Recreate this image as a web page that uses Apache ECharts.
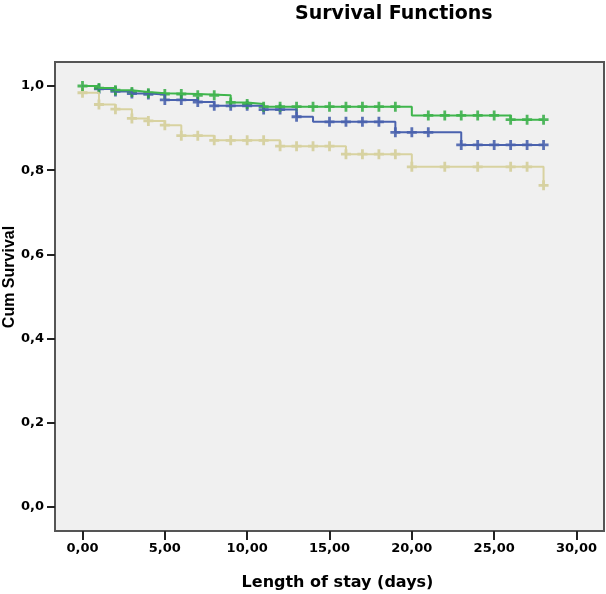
<!DOCTYPE html>
<html>
<head>
<meta charset="utf-8">
<script src="https://cdn.jsdelivr.net/npm/echarts@6/dist/echarts.min.js"></script>
<style>
  html, body { margin: 0; padding: 0; background: #fff; }
  #chart { width: 606px; height: 594px; }
</style>
</head>
<body>
<div id="chart"></div>
<script>
// tick labels
var xTicks = [0, 5, 10, 15, 20, 25, 30];
var yTicks = [0, 0.2, 0.4, 0.6, 0.8, 1.0];

// step functions: event times and survival after each step
var greenT = [0, 1, 2, 3, 4, 5, 7, 9, 10, 11, 20, 26, 28];
var greenS = [1.0, 0.995, 0.990, 0.986, 0.983, 0.981, 0.978, 0.961, 0.957, 0.951, 0.930, 0.920, 0.920];
var greenCensor = [0, 1, 2, 3, 4, 5, 6, 7, 8, 9, 10, 11, 12, 13, 14, 15, 16, 17, 18, 19, 21, 22, 23, 24, 25, 26, 27, 28];

var blueT = [0, 1, 2, 3, 4, 5, 7, 8, 11, 13, 14, 19, 23, 28];
var blueS = [1.0, 0.993, 0.987, 0.982, 0.980, 0.967, 0.962, 0.953, 0.944, 0.927, 0.915, 0.890, 0.860, 0.860];
var blueCensor = [1, 2, 3, 4, 5, 6, 7, 8, 9, 10, 11, 12, 13, 15, 16, 17, 18, 19, 20, 21, 23, 24, 25, 26, 27, 28];

var tanT = [0, 1, 2, 3, 4, 5, 6, 8, 12, 16, 20, 28];
var tanS = [0.984, 0.956, 0.945, 0.923, 0.917, 0.907, 0.882, 0.871, 0.857, 0.838, 0.808, 0.764];
var tanCensor = [0, 1, 2, 3, 4, 5, 6, 7, 8, 9, 10, 11, 12, 13, 14, 15, 16, 17, 18, 19, 20, 22, 24, 26, 27, 28];

(function () {
  var myChart = echarts.init(document.getElementById('chart'));

  // 十字形删失标记
  var plus = 'path://M3.6,0h2.8v3.6h3.6v2.8h-3.6v3.6h-2.8v-3.6h-3.6v-2.8h3.6z';

  function steps(t, s) {
    return t.map(function (v, i) { return [v, s[i]]; });
  }
  // survival value at time x from a step function
  function survAt(t, s, x) {
    var v = s[0];
    for (var i = 0; i < t.length; i++) {
      if (t[i] <= x) v = s[i];
    }
    return v;
  }
  function marks(t, s, c) {
    return c.map(function (x) { return [x, survAt(t, s, x)]; });
  }

  var groups = [
    { name: 'tan', color: '#d8d2a0', mark: '#d0c98e', t: tanT, s: tanS, c: tanCensor },
    { name: 'blue', color: '#4a62ae', mark: '#3550a5', t: blueT, s: blueS, c: blueCensor },
    { name: 'green', color: '#3fb54c', mark: '#28a83a', t: greenT, s: greenS, c: greenCensor }
  ];

  var series = [];
  groups.forEach(function (g) {
    series.push({
      name: g.name,
      type: 'line',
      step: 'end',
      showSymbol: false,
      silent: true,
      lineStyle: { color: g.color, width: 2 },
      data: steps(g.t, g.s)
    });
    series.push({
      name: g.name + ' censored',
      type: 'scatter',
      symbol: plus,
      symbolSize: 10,
      itemStyle: { color: g.mark },
      data: marks(g.t, g.s, g.c)
    });
  });

  var wideFont = 'DejaVu Sans, Verdana, sans-serif';
  var labelStyle = {
    color: '#000',
    fontFamily: wideFont,
    fontWeight: 'bold',
    fontSize: 13
  };

  var option = {
    animation: false,
    title: {
      text: 'Survival Functions',
      left: 290,
      top: 0,
      textStyle: {
        color: '#000',
        fontFamily: wideFont,
        fontWeight: 'bold',
        fontSize: 19
      }
    },
    // y 轴标题（偏上，单独放置）
    graphic: [{
      type: 'text',
      x: 10,
      y: 277,
      rotation: Math.PI / 2,
      style: {
        text: 'Cum Survival',
        align: 'center',
        verticalAlign: 'middle',
        fill: '#000',
        fontFamily: 'Liberation Sans, Arial, sans-serif',
        fontWeight: 'bold',
        fontSize: 16
      }
    }],
    grid: {
      left: 55,
      right: 2,
      top: 62,
      bottom: 63,
      outerBoundsMode: 'none',
      containLabel: false,
      show: true,
      backgroundColor: '#f0f0f0',
      borderColor: '#555',
      borderWidth: 2
    },
    xAxis: {
      type: 'value',
      min: -1.67,
      max: 31.67,
      name: 'Length of stay (days)',
      nameLocation: 'middle',
      nameGap: 44,
      nameTextStyle: {
        color: '#000',
        fontFamily: wideFont,
        fontWeight: 'bold',
        fontSize: 16,
        padding: [0, 0, 0, 16]
      },
      axisLine: { show: false, onZero: false },
      splitLine: { show: false },
      axisTick: {
        show: true,
        length: 9,
        customValues: xTicks,
        lineStyle: { color: '#222', width: 2 }
      },
      axisLabel: Object.assign({
        customValues: xTicks,
        margin: 11,
        formatter: function (v) { return v.toFixed(2).replace('.', ','); }
      }, labelStyle)
    },
    yAxis: {
      type: 'value',
      min: -0.057,
      max: 1.057,
      axisLine: { show: false, onZero: false },
      splitLine: { show: false },
      axisTick: {
        show: true,
        length: 8,
        customValues: yTicks,
        lineStyle: { color: '#222', width: 2 }
      },
      axisLabel: Object.assign({
        customValues: yTicks,
        margin: 11,
        formatter: function (v) { return v.toFixed(1).replace('.', ','); }
      }, labelStyle)
    },
    series: series
  };

  myChart.setOption(option);

  window.addEventListener('resize', function () {
    myChart.resize();
  });
})();
</script>
</body>
</html>
